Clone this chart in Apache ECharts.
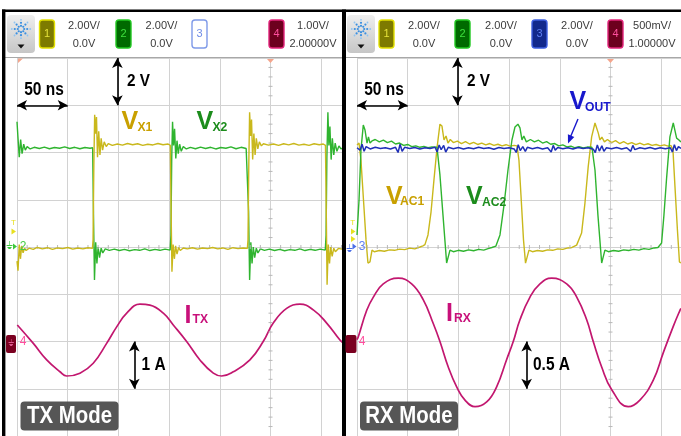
<!DOCTYPE html>
<html><head><meta charset="utf-8">
<script src="https://cdn.jsdelivr.net/npm/echarts@6/dist/echarts.min.js"></script>
<style>html,body{margin:0;padding:0;background:#fff}#c{width:681px;height:436px}</style>
</head><body><div id="c"></div>
<script>
// ---------- DATA (time in ns, voltage in V, current in A) ----------
const timeDivLabel = '50 ns';
const voltDivLabel = '2 V';
const txCurrentDivLabel = '1 A';
const rxCurrentDivLabel = '0.5 A';
const panelTitles = ['TX Mode', 'RX Mode'];
const leftHeader = [['1', '2.00V/', '0.0V'], ['2', '2.00V/', '0.0V'], ['3', '', ''], ['4', '1.00V/', '2.00000V']];
const rightHeader = [['1', '2.00V/', '0.0V'], ['2', '2.00V/', '0.0V'], ['3', '2.00V/', '0.0V'], ['4', '500mV/', '1.00000V']];

// TX mode: V_X1 (ch1), V_X2 (ch2), I_TX (ch4)
const vx1 = [[0,-0.6],[1,-1.0],[2.2,0.1],[3.4,-0.5],[4.6,0.05],[6,-0.25],[7.5,-0.05],[9,-0.15],[12,-0.05],[16,-0.1],[20,-0.02],[25,-0.08],[30,-0.03],[35,-0.1],[40,-0.04],[45,-0.07],[50,-0.02],[55,-0.09],[60,-0.04],[65,-0.08],[70,-0.03],[74.4,-0.06],[75,0.3],[75.8,3.5],[76.6,5.6],[77.6,4.8],[78.4,5.5],[79.4,3.8],[80.6,4.9],[81.8,3.9],[83,4.6],[84.4,4.1],[86,4.45],[88,4.25],[90,4.38],[94,4.3],[99,4.36],[104,4.31],[109,4.38],[114,4.33],[119,4.37],[124,4.3],[129,4.35],[134,4.32],[139,4.38],[144,4.33],[149,4.36],[151.2,4.3],[152,1.5],[152.8,-1.05],[154,0.1],[155.2,-0.5],[156.4,0.05],[157.8,-0.3],[159.4,-0.02],[161,-0.15],[164,-0.04],[168,-0.08],[173,-0.03],[178,-0.09],[183,-0.04],[188,-0.07],[193,-0.02],[198,-0.08],[203,-0.04],[208,-0.1],[213,-0.03],[218,-0.07],[223,-0.04],[227.2,-0.06],[227.8,0.3],[228.6,3.5],[229.4,5.7],[230.4,4.7],[231.3,5.4],[232.4,3.7],[233.6,4.8],[234.8,3.9],[236,4.6],[237.5,4.15],[239,4.45],[241,4.28],[243,4.37],[248,4.31],[253,4.36],[258,4.3],[263,4.37],[268,4.32],[273,4.38],[278,4.31],[283,4.35],[288,4.3],[293,4.37],[298,4.33],[302,4.36],[304.2,4.3],[305,1.5],[305.8,-1.6],[307,0.1],[308.2,-0.7],[309.4,0.0],[310.8,-0.4],[312.4,-0.05],[314,-0.2],[317,-0.06],[321.5,-0.1]];
const vx2 = [[0,5.3],[1,4.6],[2.2,3.8],[3.6,4.55],[5,3.95],[6.6,4.35],[8.2,4.1],[10,4.25],[13,4.15],[17,4.22],[22,4.17],[27,4.23],[32,4.16],[37,4.21],[42,4.18],[47,4.24],[52,4.17],[57,4.22],[62,4.16],[67,4.21],[72,4.18],[74.6,4.2],[75.4,1.5],[76.4,-1.4],[77.6,0.2],[78.8,-0.7],[80,0.0],[81.4,-0.45],[83,-0.05],[84.6,-0.25],[87,-0.08],[91,-0.14],[96,-0.09],[101,-0.15],[106,-0.1],[111,-0.16],[116,-0.11],[121,-0.14],[126,-0.08],[131,-0.15],[136,-0.1],[141,-0.14],[146,-0.09],[151,-0.13],[151.8,0.5],[152.6,3.8],[153.4,5.3],[154.4,4.3],[155.4,5.0],[156.6,3.75],[157.8,4.5],[159,3.95],[160.4,4.35],[162,4.05],[164,4.25],[167,4.15],[171,4.22],[176,4.16],[181,4.23],[186,4.17],[191,4.22],[196,4.15],[201,4.21],[206,4.18],[211,4.24],[216,4.16],[221,4.22],[226,4.17],[227.6,4.2],[228.4,1.5],[229.4,-1.4],[230.6,0.2],[231.8,-0.7],[233,0.0],[234.4,-0.45],[236,-0.05],[237.6,-0.25],[240,-0.08],[244,-0.14],[249,-0.09],[254,-0.15],[259,-0.1],[264,-0.16],[269,-0.11],[274,-0.14],[279,-0.08],[284,-0.15],[289,-0.1],[294,-0.14],[299,-0.09],[304,-0.13],[304.8,0.5],[305.6,3.8],[306.6,5.7],[307.6,4.3],[308.6,5.1],[309.8,3.7],[311,4.6],[312.4,3.9],[313.8,4.4],[315.5,4.05],[317.5,4.28],[319.5,4.15],[321.5,4.2]];
const itx = [[0.3,0.35],[16.1,-0.04],[29.3,-0.39],[42.4,-0.64],[49,-0.73],[62.1,-0.67],[75.2,-0.46],[88.4,-0.04],[98.3,0.31],[108.2,0.6],[121.3,0.79],[131.1,0.77],[144.3,0.6],[154.1,0.35],[167.3,0.0],[180.4,-0.39],[193.6,-0.67],[201.8,-0.73],[213.3,-0.64],[229.7,-0.39],[242.8,0.0],[252.7,0.39],[265.9,0.7],[279,0.79],[292.2,0.67],[305.4,0.39],[318.5,0.03],[321.5,-0.03]];

// RX mode: V_AC1 (ch1), V_AC2 (ch2), V_OUT (ch3), I_RX (ch4)
const vac1 = [[0,4.32],[2,4.4],[3.9,3.68],[6.4,1.99],[8.9,0.3],[10.8,-0.68],[12.8,-0.63],[14.8,-0.13],[17,-0.2],[22,-0.15],[27,-0.18],[32,-0.12],[37,-0.14],[42,-0.09],[47,-0.11],[52,-0.05],[57,-0.08],[62,0.0],[65,0.05],[67,0.1],[70,0.51],[73,1.48],[75.9,2.84],[78.9,4.19],[81.8,5.2],[83.8,5.12],[85.8,4.53],[87.8,4.7],[89.7,4.4],[92,4.55],[95,4.42],[99,4.48],[103,4.38],[107,4.46],[111,4.36],[115,4.43],[119,4.34],[123,4.4],[127,4.32],[131,4.38],[135,4.3],[139,4.35],[143,4.28],[147,4.33],[151,4.27],[155,4.3],[157.8,4.28],[159.7,3.68],[161.7,2.2],[164.2,0.3],[166.2,-0.68],[167.6,-0.63],[169.6,-0.13],[173,-0.2],[178,-0.15],[183,-0.18],[188,-0.12],[193,-0.14],[198,-0.08],[203,-0.1],[208,-0.04],[212,-0.02],[216.6,0.08],[221.5,0.59],[224.8,1.86],[228,3.39],[231.4,4.66],[234.7,5.25],[237.9,4.83],[239.6,4.53],[241.5,4.65],[244,4.45],[247,4.55],[251,4.42],[255,4.5],[259,4.38],[263,4.46],[267,4.36],[271,4.42],[275,4.33],[279,4.4],[283,4.32],[287,4.37],[291,4.3],[295,4.34],[299,4.28],[303,4.32],[307,4.27],[309.6,4.3],[311.6,4.1],[313.5,2.62],[316,0.72],[318,-0.63],[319.5,-0.68]];
const vac2 = [[0,0.51],[2,1.99],[3.9,4.1],[6.2,5.16],[7.9,4.95],[9.9,4.4],[11.3,4.66],[12.8,4.4],[14.8,4.49],[18,4.55],[22,4.45],[26,4.52],[30,4.42],[34,4.48],[38,4.36],[42,4.4],[46,4.3],[50,4.34],[54,4.25],[58,4.28],[62,4.22],[66,4.26],[70,4.2],[74,4.24],[78.9,4.22],[81.8,3.05],[84.8,1.35],[88.4,-0.68],[89.7,-0.63],[91.7,-0.13],[95,-0.2],[100,-0.14],[105,-0.18],[110,-0.12],[115,-0.16],[120,-0.1],[125,-0.13],[130,-0.06],[133,-0.02],[137,0.04],[141,0.51],[145,1.78],[148.9,3.26],[152.8,4.53],[155.8,5.08],[158.7,5.2],[160.7,5.04],[162.7,4.53],[164.5,4.7],[167,4.45],[171,4.55],[175,4.45],[179,4.52],[183,4.4],[187,4.46],[191,4.35],[195,4.38],[199,4.28],[203,4.32],[207,4.24],[211,4.27],[215,4.2],[219,4.25],[223,4.19],[227,4.23],[231.7,4.22],[234.7,3.26],[237.6,1.35],[241.3,-0.68],[242.6,-0.63],[244.5,-0.13],[248,-0.2],[253,-0.15],[258,-0.18],[263,-0.12],[268,-0.15],[273,-0.1],[278,-0.13],[283,-0.07],[288,-0.1],[293,-0.04],[296.8,-0.02],[300.4,0.17],[302.7,1.35],[305.4,2.96],[308.6,4.66],[311.9,5.25],[315.2,4.61],[317.5,4.53],[319.5,4.44]];
const vout = [[0,4.2],[3,4.1],[5,4.35],[7,4.05],[9,4.25],[13,4.15],[18,4.22],[23,4.17],[28,4.2],[33,4.15],[38,4.22],[40.5,4.0],[42.5,4.35],[44.5,4.05],[47,4.22],[52,4.17],[57,4.21],[62,4.15],[67,4.2],[72,4.17],[77,4.22],[79,4.02],[81,4.32],[83,4.12],[85.5,4.3],[87.5,4.02],[90,4.22],[95,4.16],[100,4.21],[105,4.15],[110,4.2],[115,4.16],[120,4.22],[125,4.17],[130,4.2],[135,4.14],[140,4.21],[145,4.17],[150,4.2],[155,4.15],[157,4.0],[159,4.33],[161,4.08],[163.5,4.25],[166,4.05],[168,4.22],[173,4.16],[178,4.21],[183,4.15],[188,4.2],[191.5,4.02],[193.5,4.3],[195.5,4.1],[198,4.21],[203,4.16],[208,4.2],[213,4.15],[218,4.21],[223,4.17],[228,4.2],[233,4.14],[235,4.0],[237,4.32],[239,4.06],[241.5,4.28],[243.5,4.05],[246,4.2],[251,4.16],[256,4.21],[261,4.15],[266,4.2],[270,4.05],[272,4.3],[274,4.12],[279,4.2],[284,4.16],[289,4.21],[294,4.15],[299,4.2],[304,4.16],[309,4.2],[311,4.02],[313,4.33],[315,4.08],[317,4.25],[319.5,4.17]];
const irx = [[0,0.02],[1.3,0.05],[9.6,0.33],[16.1,0.47],[25.9,0.61],[40.7,0.67],[53.9,0.61],[65.4,0.44],[75.2,0.19],[81.8,0.0],[90,-0.27],[98.3,-0.48],[106.5,-0.62],[116.4,-0.69],[127.9,-0.64],[137.7,-0.48],[147.6,-0.19],[154.1,0.0],[160.7,0.23],[170.6,0.47],[180.4,0.61],[192,0.67],[206.8,0.61],[216.7,0.47],[226.5,0.23],[233,0.0],[241.3,-0.27],[251.2,-0.51],[267.5,-0.69],[279,-0.62],[292.2,-0.41],[302,-0.12],[311.9,0.16],[318.5,0.33],[319.5,0.35]];

// annotation anchors (data coords)
const txArrowTime = 99, rxArrowTime = 99;
const txCurArrowTime = 115.7, rxCurArrowTime = 167.3;

// ---------- LAYOUT ----------
const PX_PER_DIV = 50.7, NS_PER_DIV = 50;
const GL = {left: 17, top: 58, width: 326, height: 378};
const GR = {left: 357, top: 58, width: 324, height: 378};
const FONT = '"Liberation Sans", Arial, sans-serif';
const C = {
  yel: '#c9b81c', grn: '#2fb42f', mag: '#c2176f', blu: '#1f2fb8',
  yelTxt: '#c9a000', grnTxt: '#1c8c1c', magTxt: '#c8107a', bluTxt: '#1818cc',
  grid: '#d2d2d2'
};

const chart = echarts.init(document.getElementById('c'), null, {renderer: 'canvas'});

function xAx(i, g) {
  return {gridIndex: i, type: 'value', min: 0, max: g.width / PX_PER_DIV * NS_PER_DIV, interval: NS_PER_DIV,
    axisLine: {show: false}, axisTick: {show: false}, axisLabel: {show: false},
    splitLine: {show: true, lineStyle: {color: C.grid, width: 1}}};
}
function yAx(i, min, max, interval, show) {
  return {gridIndex: i, type: 'value', min, max, interval, show: true,
    axisLine: {show: false}, axisTick: {show: false}, axisLabel: {show: false},
    splitLine: {show: show, lineStyle: {color: C.grid, width: 1}}};
}
function arrows(pairs) {
  return {silent: true, symbol: ['arrow', 'arrow'], symbolSize: [8, 10], animation: false,
    label: {show: false}, emphasis: {disabled: true},
    lineStyle: {color: '#000', width: 1.6, type: 'solid'},
    data: pairs.map(p => [{coord: p[0]}, {coord: p[1]}])};
}
function line(name, xi, yi, data, color, width, extra) {
  return Object.assign({name, type: 'line', xAxisIndex: xi, yAxisIndex: yi, data, showSymbol: false, symbol: 'none',
    animation: false, silent: true, lineStyle: {color, width}, itemStyle: {color}}, extra || {});
}

// ---------- GRAPHIC DECORATION ----------
const G = [];
function txt(x, y, text, size, color, o) {
  o = o || {};
  G.push({type: 'text', x, y, z: 60, scaleX: o.sx || 1, silent: true,
    style: {text, font: (o.w || 'bold') + ' ' + size + 'px ' + FONT, fill: color, align: o.align || 'left', verticalAlign: 'middle'}});
}
function rect(x, y, w, h, fill, o) {
  o = o || {};
  G.push({type: 'rect', z: o.z || 55, silent: true, shape: {x, y, width: w, height: h, r: o.r || 0},
    style: {fill, stroke: o.stroke || null, lineWidth: o.lw || 0}});
}
function seg(x1, y1, x2, y2, color, w, z) {
  G.push({type: 'line', z: z || 55, silent: true, shape: {x1, y1, x2, y2}, style: {stroke: color, lineWidth: w}});
}
function poly(pts, fill, z) {
  G.push({type: 'polygon', z: z || 56, silent: true, shape: {points: pts}, style: {fill}});
}

// header backgrounds
rect(5, 12, 337, 45, '#ffffff', {z: 50});
rect(346, 12, 335, 45, '#ffffff', {z: 50});
seg(5, 57.5, 342, 57.5, '#a8a8a8', 1, 51);
seg(346, 57.5, 681, 57.5, '#a8a8a8', 1, 51);

const chStyles = {
  '1': {fill: '#7d7a00', stroke: '#e2e000', text: '#e6e23a'},
  '2': {fill: '#006a00', stroke: '#22c822', text: '#3ee03e'},
  '3off': {fill: '#ffffff', stroke: '#7f9ae8', text: '#6f8ce6'},
  '3': {fill: '#12298c', stroke: '#3d5fe0', text: '#5d7ef0'},
  '4': {fill: '#6d001e', stroke: '#e2237a', text: '#ff4e9e'}
};
function header(x0, chans, boxXs, textXs, ch3Active) {
  // scope icon
  G.push({type: 'rect', z: 55, silent: true, shape: {x: x0 + 2, y: 15, width: 28, height: 38, r: 4},
    style: {fill: new echarts.graphic.LinearGradient(0, 0, 0, 1, [{offset: 0, color: '#eeeeee'}, {offset: 1, color: '#c6c6c6'}])}});
  const cx = x0 + 16, cy = 29;
  for (let k = 0; k < 8; k++) {
    const a = k * Math.PI / 4;
    [3.2, 6.2, 9.2].forEach((r, j) => {
      G.push({type: 'circle', z: 56, silent: true, shape: {cx: cx + r * Math.cos(a), cy: cy + r * Math.sin(a), r: j === 2 ? 0.9 : 1.1},
        style: {fill: j === 2 ? '#8fc4f2' : '#3a8fe0'}});
    });
  }
  poly([[cx - 3.5, 44.5], [cx + 3.5, 44.5], [cx, 48.5]], '#111');
  chans.forEach((c, i) => {
    const st = chStyles[c[0] === '3' && !ch3Active ? '3off' : c[0]];
    rect(boxXs[i], 20, 15, 28, st.fill, {r: 3, stroke: st.stroke, lw: 1.4, z: 56});
    txt(boxXs[i] + 7.5, 34, c[0], 11, st.text, {w: 'normal', align: 'center'});
    if (c[1]) {
      txt(textXs[i], 25.5, c[1], 11, '#3a3a3a', {w: 'normal', align: 'center'});
      txt(textXs[i], 44, c[2], 11, '#3a3a3a', {w: 'normal', align: 'center'});
    }
  });
}
header(5, leftHeader, [39.5, 116, 192, 269], [84, 161.5, 0, 313], false);
header(345, rightHeader, [379, 455, 532, 608], [424, 501, 577, 652], true);

// black frame lines
rect(2, 9.5, 679, 2.6, '#000', {z: 70});
rect(2, 9.5, 3.4, 427, '#000', {z: 70});
rect(342, 9.5, 4, 427, '#000', {z: 70});

// centre-line minor ticks and trigger markers
[GL, GR].forEach(g => {
  const xc = g.left + 5 * PX_PER_DIV, yc = g.top + 4 * g.height / 8;
  for (let k = 1; k < 40; k++) {
    const y = g.top + k * g.height / 40;
    if (k % 5) seg(xc - 2, y, xc + 2, y, '#b8b8b8', 1, 5);
  }
  for (let k = 1; k * PX_PER_DIV / 5 < g.width; k++) {
    const x = g.left + k * PX_PER_DIV / 5;
    if (k % 5) seg(x, yc - 2, x, yc + 2, '#b8b8b8', 1, 5);
  }
  poly([[xc - 3.5, g.top + 1], [xc + 3.5, g.top + 1], [xc, g.top + 5]], '#f4a58c', 6);
});
poly([[GL.left + 1, 58.5], [GL.left + 6, 58.5], [GL.left + 1, 63]], '#f4a58c', 6);

// channel markers, left panel
txt(13.5, 222.5, 'T', 8, '#e8e020', {w: 'normal', align: 'center'});
poly([[11.5, 228.5], [16, 231.5], [11.5, 234.5]], '#e8e020');
txt(9, 246, '⏚', 10, '#3cc83c', {w: 'normal', align: 'center'});
poly([[13, 243.5], [17, 246.5], [13, 249.5]], '#3cc83c');
txt(23, 246.5, '2', 12, '#44cc44', {w: 'normal', align: 'center'});
rect(6, 335, 10, 18, '#7a0020', {r: 2, z: 56});
txt(11, 344, '⏚', 9, '#e05a90', {w: 'normal', align: 'center'});
txt(23, 341.5, '4', 12, '#ff4e9e', {w: 'normal', align: 'center'});
// channel markers, right panel
txt(352.7, 222.5, 'T', 8, '#e8e020', {w: 'normal', align: 'center'});
poly([[351, 228.5], [355.5, 231.5], [351, 234.5]], '#e8e020');
poly([[351, 236], [355.5, 239], [351, 242]], '#e8e020');
txt(349, 249, '⏚', 10, '#4a6ee8', {w: 'normal', align: 'center'});
poly([[352.5, 243.5], [356.5, 246.5], [352.5, 249.5]], '#4a6ee8');
txt(362, 246.5, '3', 12, '#5d7ef0', {w: 'normal', align: 'center'});
rect(345.5, 335, 11, 18, '#7a0020', {r: 2, z: 71});
txt(351, 344, '⏚', 9, '#e05a90', {w: 'normal', align: 'center'});
txt(362, 341.5, '4', 12, '#ff4e9e', {w: 'normal', align: 'center'});

// annotation texts, left
txt(44, 90, timeDivLabel, 18, '#000', {align: 'center', sx: 0.86});
txt(127, 81.5, voltDivLabel, 17, '#000', {sx: 0.9});
txt(121.5, 122.5, 'V', 25, C.yelTxt);
txt(137.5, 127.5, 'X1', 13.5, C.yelTxt, {sx: 0.9});
txt(196.5, 122.5, 'V', 25, C.grnTxt);
txt(212.5, 127.5, 'X2', 13.5, C.grnTxt, {sx: 0.9});
txt(184.5, 316, 'I', 25, C.magTxt);
txt(192.5, 319.5, 'TX', 13.5, C.magTxt, {sx: 0.9});
txt(141.5, 365, txCurrentDivLabel, 18, '#000', {sx: 0.86});
// annotation texts, right
txt(384, 90, timeDivLabel, 18, '#000', {align: 'center', sx: 0.86});
txt(467, 81.5, voltDivLabel, 17, '#000', {sx: 0.9});
txt(569.5, 102.5, 'V', 25, C.bluTxt);
txt(585, 107, 'OUT', 13.5, C.bluTxt, {sx: 0.9});
seg(578, 119, 570, 138, C.bluTxt, 1.4, 60);
poly([[568, 143.5], [574.3, 136.9], [567.9, 134.3]], C.bluTxt, 60);
txt(386, 196.7, 'V', 25, C.yelTxt);
txt(400, 201.7, 'AC1', 13.5, C.yelTxt, {sx: 0.9});
txt(466, 197.5, 'V', 25, C.grnTxt);
txt(482, 202.5, 'AC2', 13.5, C.grnTxt, {sx: 0.9});
txt(446, 314, 'I', 25, C.magTxt);
txt(454, 318, 'RX', 13.5, C.magTxt, {sx: 0.9});
txt(533, 365, rxCurrentDivLabel, 18, '#000', {sx: 0.86});

// mode badges
rect(20.5, 401.5, 98, 29, 'rgba(72,72,72,0.92)', {r: 4, z: 58});
txt(69.5, 416.5, panelTitles[0], 24, '#ffffff', {align: 'center', sx: 0.85});
rect(360, 401.5, 98, 29, 'rgba(72,72,72,0.92)', {r: 4, z: 58});
txt(409, 416.5, panelTitles[1], 24, '#ffffff', {align: 'center', sx: 0.85});

// ---------- OPTION ----------
chart.setOption({
  animation: false,
  backgroundColor: '#ffffff',
  grid: [Object.assign({}, GL), Object.assign({}, GR)],
  xAxis: [xAx(0, GL), xAx(1, GR)],
  yAxis: [yAx(0, -8, 8, 2, true), yAx(0, -2, 6, 1, false), yAx(1, -8, 8, 2, true), yAx(1, -1, 3, 0.5, false)],
  series: [
    line('I_TX', 0, 1, itx, C.mag, 1.7, {smooth: 0.45, z: 3,
      markLine: arrows([[[txCurArrowTime, 0], [txCurArrowTime, -1]]])}),
    line('V_X2', 0, 0, vx2, C.grn, 1.4, {z: 4}),
    line('V_X1', 0, 0, vx1, C.yel, 1.4, {z: 5,
      markLine: arrows([[[0, 6], [NS_PER_DIV, 6]], [[txArrowTime, 8], [txArrowTime, 6]]])}),
    line('I_RX', 1, 3, irx, C.mag, 1.7, {smooth: 0.45, z: 3,
      markLine: arrows([[[rxCurArrowTime, 0], [rxCurArrowTime, -0.5]]])}),
    line('V_AC1', 1, 2, vac1, C.yel, 1.4, {z: 4,
      markLine: arrows([[[0, 6], [NS_PER_DIV, 6]], [[rxArrowTime, 8], [rxArrowTime, 6]]])}),
    line('V_AC2', 1, 2, vac2, C.grn, 1.4, {z: 5}),
    line('V_OUT', 1, 2, vout, C.blu, 1.5, {z: 6})
  ],
  graphic: G
});
</script>
</body></html>
